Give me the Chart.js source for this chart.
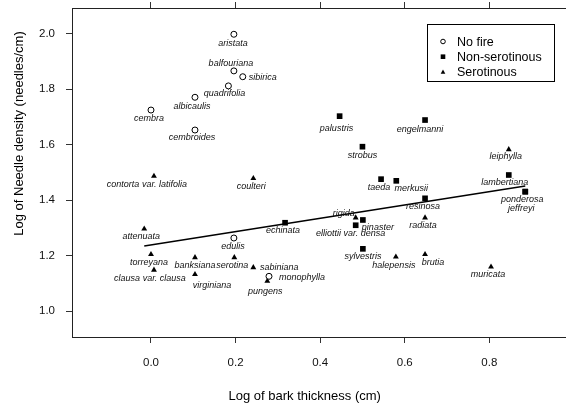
<!DOCTYPE html>
<html>
<head>
<meta charset="utf-8">
<script src="https://cdn.jsdelivr.net/npm/chart.js@4/dist/chart.umd.min.js"></script>
<style>
  html, body { margin: 0; padding: 0; background: #fff; }
</style>
</head>
<body>
<canvas id="grafico" width="566" height="408"></canvas>
<script>
// Species without fire adaptation (open circles)
const noFireNames = ['aristata', 'balfouriana', 'sibirica', 'quadrifolia', 'albicaulis', 'cembra', 'cembroides', 'edulis', 'monophylla'];
const noFireX = [0.196, 0.196, 0.217, 0.183, 0.104, 0.0, 0.104, 0.196, 0.279];
const noFireY = [1.998, 1.866, 1.845, 1.812, 1.771, 1.725, 1.653, 1.264, 1.126];

// Non-serotinous species (filled squares)
const nonSerNames = ['palustris', 'engelmanni', 'strobus', 'taeda', 'merkusii', 'lambertiana', 'ponderosa', 'jeffreyi', 'resinosa', 'echinata', 'pinaster', 'elliottii var. densa', 'sylvestris'];
const nonSerX = [0.446, 0.648, 0.500, 0.544, 0.580, 0.846, 0.885, 0.885, 0.648, 0.317, 0.501, 0.484, 0.501];
const nonSerY = [1.703, 1.689, 1.593, 1.476, 1.470, 1.491, 1.431, 1.431, 1.407, 1.319, 1.329, 1.310, 1.225];

// Serotinous species (filled triangles)
const serNames = ['leiphylla', 'contorta var. latifolia', 'coulteri', 'attenuata', 'torreyana', 'clausa var. clausa', 'banksiana', 'serotina', 'virginiana', 'sabiniana', 'pungens', 'rigida', 'radiata', 'halepensis', 'brutia', 'muricata'];
const serX = [0.846, 0.007, 0.242, -0.016, 0.0, 0.007, 0.104, 0.197, 0.104, 0.242, 0.275, 0.484, 0.648, 0.579, 0.648, 0.804];
const serY = [1.583, 1.487, 1.479, 1.297, 1.205, 1.149, 1.194, 1.194, 1.133, 1.158, 1.109, 1.337, 1.337, 1.196, 1.205, 1.160];

// Regression line end points
const fitX = [-0.016, 0.885];
const fitY = [1.235, 1.451];

// Axis ticks
const xTicks = [0.0, 0.2, 0.4, 0.6, 0.8];
const yTicks = [1.0, 1.2, 1.4, 1.6, 1.8, 2.0];

// where each species name sits relative to its marker (px)
const labelNudge = {
  'aristata': [-1, 9], 'balfouriana': [-3, -7], 'sibirica': [20, 1], 'quadrifolia': [-4, 8],
  'albicaulis': [-3, 9], 'cembra': [-2, 8], 'cembroides': [-3, 7], 'edulis': [-1, 8],
  'monophylla': [33, 1], 'palustris': [-3, 12], 'engelmanni': [-5, 9], 'strobus': [0, 9],
  'taeda': [-2, 8], 'merkusii': [15, 8], 'lambertiana': [-4, 8], 'ponderosa': [-3, 8],
  'jeffreyi': [-4, 17], 'resinosa': [-2, 8], 'echinata': [-2, 8], 'pinaster': [15, 8],
  'elliottii var. densa': [-5, 8], 'sylvestris': [0, 8], 'leiphylla': [-3, 7],
  'contorta var. latifolia': [-7, 8], 'coulteri': [-2, 8], 'attenuata': [-3, 8],
  'torreyana': [-2, 8], 'clausa var. clausa': [-4, 9], 'banksiana': [0, 8], 'serotina': [-2, 8],
  'virginiana': [17, 11], 'sabiniana': [26, 0], 'pungens': [-2, 10], 'rigida': [-12, -4],
  'radiata': [-2, 8], 'halepensis': [-2, 9], 'brutia': [8, 8], 'muricata': [-3, 8]
};

const FONTE = '"Liberation Sans", Arial, sans-serif';

function pontos(xs, ys) {
  return xs.map((x, i) => ({ x: x, y: ys[i] }));
}

// draws a marker in the same style as the datasets
function marcador(ctx, estilo, x, y, r) {
  ctx.beginPath();
  if (estilo === 'circle') {
    ctx.arc(x, y, r, 0, Math.PI * 2);
    ctx.fillStyle = '#fff';
    ctx.fill();
    ctx.lineWidth = 1;
    ctx.strokeStyle = '#000';
    ctx.stroke();
  } else if (estilo === 'rect') {
    ctx.fillStyle = '#000';
    ctx.fillRect(x - r, y - r, 2 * r, 2 * r);
  } else {
    ctx.moveTo(x, y - r);
    ctx.lineTo(x + r, y + r * 0.8);
    ctx.lineTo(x - r, y + r * 0.8);
    ctx.closePath();
    ctx.fillStyle = '#000';
    ctx.fill();
  }
}

// no automatic label padding: the plot box fills the canvas like the original
function semMargem(s) {
  s.paddingLeft = 0; s.paddingRight = 0; s.paddingTop = 0; s.paddingBottom = 0;
}

const extras = {
  id: 'extras',
  afterDatasetsDraw(chart) {
    const ctx = chart.ctx;
    ctx.save();
    // species names
    ctx.font = 'italic 9px ' + FONTE;
    ctx.fillStyle = '#111';
    ctx.textAlign = 'center';
    ctx.textBaseline = 'middle';
    chart.data.datasets.forEach((ds, di) => {
      if (!ds.nomes) return;
      chart.getDatasetMeta(di).data.forEach((pt, i) => {
        const nome = ds.nomes[i];
        const d = labelNudge[nome] || [0, 8];
        ctx.fillText(nome, pt.x + d[0], pt.y + d[1]);
      });
    });

    // legend box
    const a = chart.chartArea;
    const lx = a.right - 139, ly = a.top + 16, lw = 127, lh = 57;
    ctx.fillStyle = '#fff';
    ctx.fillRect(lx, ly, lw, lh);
    ctx.lineWidth = 1;
    ctx.strokeStyle = '#000';
    ctx.strokeRect(lx + 0.5, ly + 0.5, lw, lh);
    ctx.font = '12.5px ' + FONTE;
    ctx.textAlign = 'left';
    chart.data.datasets.forEach((ds, di) => {
      if (!ds.nomes) return;
      const yy = ly + 17.5 + di * 15.2;
      marcador(ctx, ds.pointStyle, lx + 16, yy, 2.3);
      ctx.fillStyle = '#000';
      ctx.fillText(ds.label, lx + 30, yy + 1);
    });

    // axis titles
    ctx.fillStyle = '#000';
    ctx.font = '13px ' + FONTE;
    ctx.textAlign = 'center';
    ctx.fillText('Log of bark thickness (cm)', 304.7, 396);
    ctx.translate(19, 133.5);
    ctx.rotate(-Math.PI / 2);
    ctx.fillText('Log of Needle density (needles/cm)', 0, 0);
    ctx.restore();
  }
};

const eixoX = { min: -0.1868, max: 0.9813 };
const eixoY = { min: 0.9074, max: 2.0926 };

const config = {
  type: 'scatter',
  data: {
    datasets: [
      {
        label: 'No fire', nomes: noFireNames, data: pontos(noFireX, noFireY),
        pointStyle: 'circle', pointRadius: 3, backgroundColor: '#fff', borderColor: '#000', borderWidth: 1
      },
      {
        label: 'Non-serotinous', nomes: nonSerNames, data: pontos(nonSerX, nonSerY),
        pointStyle: 'rect', pointRadius: 4, backgroundColor: '#000', borderColor: '#000', borderWidth: 0
      },
      {
        label: 'Serotinous', nomes: serNames, data: pontos(serX, serY),
        pointStyle: 'triangle', pointRadius: 3.4, backgroundColor: '#000', borderColor: '#000', borderWidth: 0
      },
      {
        label: 'fit', data: pontos(fitX, fitY), showLine: true,
        pointRadius: 0, borderColor: '#000', borderWidth: 1.5
      }
    ]
  },
  options: {
    responsive: false,
    animation: false,
    layout: { padding: 0, autoPadding: false },
    plugins: { legend: { display: false }, tooltip: { enabled: false } },
    scales: {
      x: {
        type: 'linear', position: 'bottom', min: eixoX.min, max: eixoX.max,
        afterBuildTicks: s => { s.ticks = xTicks.map(v => ({ value: v })); },
        afterFit: s => { s.height = 71; semMargem(s); },
        ticks: { callback: v => v.toFixed(1), font: { size: 11.5, family: FONTE }, color: '#111', padding: 13, maxRotation: 0 },
        grid: { drawOnChartArea: false, tickLength: 6, color: '#333' },
        border: { color: '#222', width: 1 }
      },
      x2: {
        type: 'linear', position: 'top', min: eixoX.min, max: eixoX.max,
        afterBuildTicks: s => { s.ticks = xTicks.map(v => ({ value: v })); },
        afterFit: s => { s.height = 8; semMargem(s); },
        ticks: { display: false },
        grid: { drawOnChartArea: false, tickLength: 6, color: '#333' },
        border: { color: '#222', width: 1 }
      },
      y: {
        type: 'linear', position: 'left', min: eixoY.min, max: eixoY.max,
        afterBuildTicks: s => { s.ticks = yTicks.map(v => ({ value: v })); },
        afterFit: s => { s.width = 72; semMargem(s); },
        ticks: { callback: v => v.toFixed(1), font: { size: 11.5, family: FONTE }, color: '#111', padding: 11 },
        grid: { drawOnChartArea: false, tickLength: 6, color: '#333' },
        border: { color: '#222', width: 1 }
      }
    }
  },
  plugins: [extras]
};

new Chart(document.getElementById('grafico').getContext('2d'), config);
</script>
</body>
</html>
